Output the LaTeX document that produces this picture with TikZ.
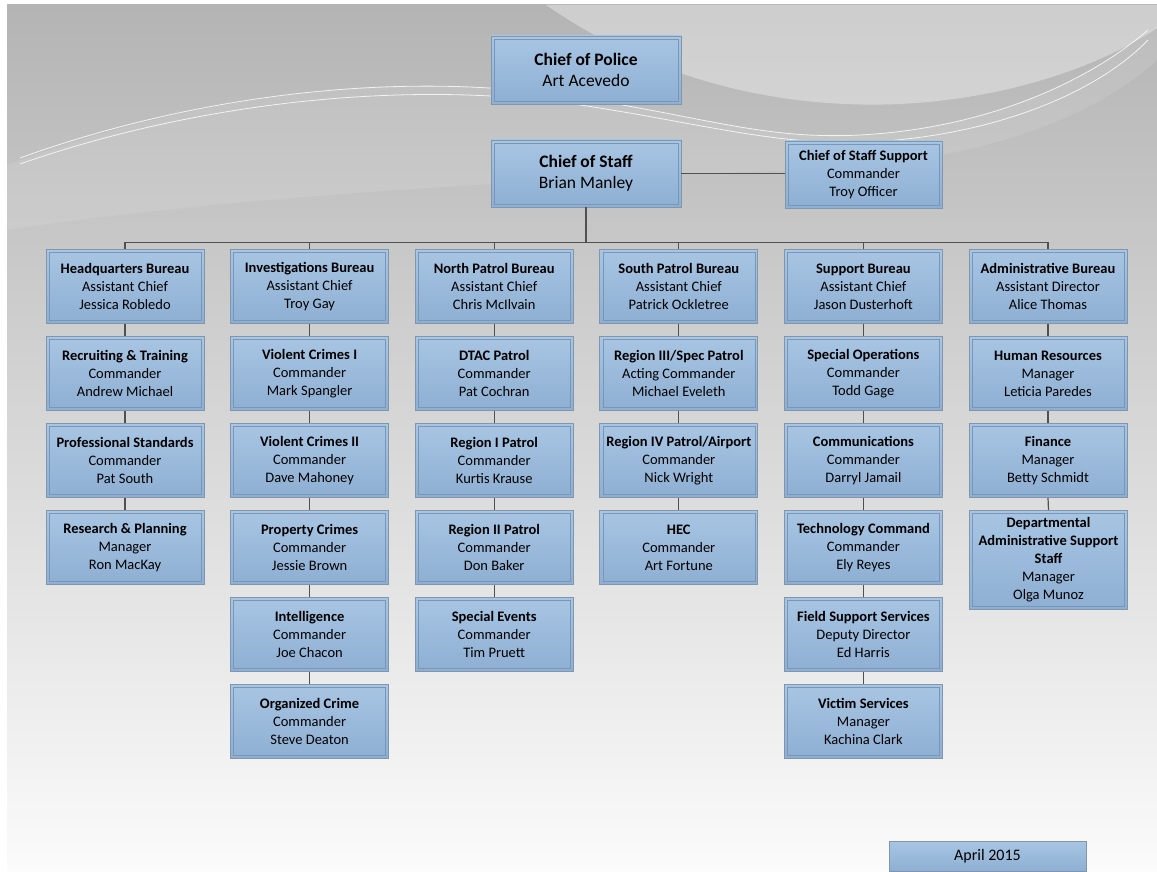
\documentclass[tikz,border=0pt]{standalone}
\usepackage{fontspec}
\setmainfont{Carlito}
\usetikzlibrary{positioning}

\definecolor{bgtop}{RGB}{180,180,180}
\definecolor{bgbot}{RGB}{251,251,251}
\definecolor{boxtop}{RGB}{168,197,227}
\definecolor{boxbot}{RGB}{142,175,211}
\definecolor{boxedge}{RGB}{128,150,172}
\definecolor{boxinner}{RGB}{120,150,185}
\definecolor{linkgray}{RGB}{80,80,80}

\tikzset{
  orgbox/.style={rectangle, draw=boxedge, line width=0.8pt,
    top color=boxtop, bottom color=boxbot,
    minimum width=158pt, minimum height=74pt, inner sep=2pt,
    align=center, font=\fontsize{14.5}{18}\selectfont,
    path picture={\draw[boxinner, line width=0.6pt]
      ([shift={(3pt,-3pt)}]path picture bounding box.north west) rectangle
      ([shift={(-3pt,3pt)}]path picture bounding box.south east);}},
  bigbox/.style={orgbox, minimum width=190pt, font=\fontsize{17.5}{21.5}\selectfont},
  link/.style={draw=linkgray, line width=1.2pt}
}

\begin{document}
\begin{tikzpicture}[x=1pt, y=-1pt]
  \useasboundingbox (0,0) rectangle (1157,872);
  % background
  \shade[top color=bgtop, bottom color=bgbot] (7,5) rectangle (1157,872);
  \fill[white, opacity=0.35] (546,5) .. controls (640,70) and (760,110) .. (900,104)
    .. controls (1020,98) and (1110,60) .. (1157,28) -- (1157,5) -- cycle;
  \fill[white, opacity=0.10] (7,165) .. controls (180,100) and (380,70) .. (560,95)
    .. controls (700,115) and (760,140) .. (860,135) .. controls (990,128) and (1090,80) .. (1157,25)
    -- (1157,60) .. controls (1080,130) and (950,165) .. (800,170)
    .. controls (500,180) and (200,200) .. (7,230) -- cycle;
  \draw[white, line width=0.8pt, opacity=0.8] (20,158) .. controls (180,100) and (380,70) .. (560,95)
    .. controls (700,115) and (760,140) .. (860,135) .. controls (990,128) and (1090,80) .. (1148,30);
  \draw[white, line width=0.8pt, opacity=0.8] (20,164) .. controls (180,108) and (380,80) .. (560,102)
    .. controls (700,122) and (770,146) .. (870,142) .. controls (1000,135) and (1100,90) .. (1148,40);

  % top of the chart
  \node[bigbox, minimum height=68pt] (police) at (586,70) {\textbf{Chief of Police}\\Art Acevedo};
  \node[bigbox, minimum height=67pt] (staff) at (586,173.5) {\textbf{Chief of Staff}\\Brian Manley};
  \node[orgbox, minimum width=157pt, minimum height=67pt] (support) at (863.5,174.5)
    {\textbf{Chief of Staff Support}\\Commander\\Troy Officer};
  \draw[link] (staff.east) -- (support.west |- staff.east);

  % bureaus and units
  \foreach \c/\r/\ttl/\rol/\who in {
      1/1/Headquarters Bureau/Assistant Chief/Jessica Robledo,
      1/2/Recruiting \& Training/Commander/Andrew Michael,
      1/3/Professional Standards/Commander/Pat South,
      1/4/Research \& Planning/Manager/Ron MacKay,
      2/1/Investigations Bureau/Assistant Chief/Troy Gay,
      2/2/Violent Crimes I/Commander/Mark Spangler,
      2/3/Violent Crimes II/Commander/Dave Mahoney,
      2/4/Property Crimes/Commander/Jessie Brown,
      2/5/Intelligence/Commander/Joe Chacon,
      2/6/Organized Crime/Commander/Steve Deaton,
      3/1/North Patrol Bureau/Assistant Chief/Chris McIlvain,
      3/2/DTAC Patrol/Commander/Pat Cochran,
      3/3/Region I Patrol/Commander/Kurtis Krause,
      3/4/Region II Patrol/Commander/Don Baker,
      3/5/Special Events/Commander/Tim Pruett,
      4/1/South Patrol Bureau/Assistant Chief/Patrick Ockletree,
      4/2/{Region III/Spec Patrol}/Acting Commander/Michael Eveleth,
      4/3/{Region IV Patrol/Airport}/Commander/Nick Wright,
      4/4/HEC/Commander/Art Fortune,
      5/1/Support Bureau/Assistant Chief/Jason Dusterhoft,
      5/2/Special Operations/Commander/Todd Gage,
      5/3/Communications/Commander/Darryl Jamail,
      5/4/Technology Command/Commander/Ely Reyes,
      5/5/Field Support Services/Deputy Director/Ed Harris,
      5/6/Victim Services/Manager/Kachina Clark,
      6/1/Administrative Bureau/Assistant Director/Alice Thomas,
      6/2/Human Resources/Manager/Leticia Paredes,
      6/3/Finance/Manager/Betty Schmidt}
    \node[orgbox, anchor=north] (n\c-\r) at ({125+184.6*(\c-1)}, {249+87*(\r-1)})
      {\textbf{\ttl}\\\rol\\\who};
  \node[orgbox, anchor=north, minimum height=99pt] (n6-4) at (1048.5,510)
    {\textbf{Departmental}\\\textbf{Administrative Support}\\\textbf{Staff}\\Manager\\Olga Munoz};

  % connectors
  \draw[link] (staff.south) -- ++(0,35) coordinate (bus);
  \draw[link] (n1-1.north |- bus) -- (n6-1.north |- bus);
  \foreach \c/\n in {1/4, 2/6, 3/5, 4/4, 5/6, 6/4} {
    \draw[link] (n\c-1.north |- bus) -- (n\c-1.north);
    \foreach \r [evaluate=\r as \p using int(\r-1)] in {2,...,\n}
      \draw[link] (n\c-\p.south) -- (n\c-\r.north);
  }

  \node[orgbox, minimum width=197pt, minimum height=30pt, path picture={},
    font=\fontsize{16}{19}\selectfont] (date) at (987.5,856) {April 2015};
\end{tikzpicture}
\end{document}
